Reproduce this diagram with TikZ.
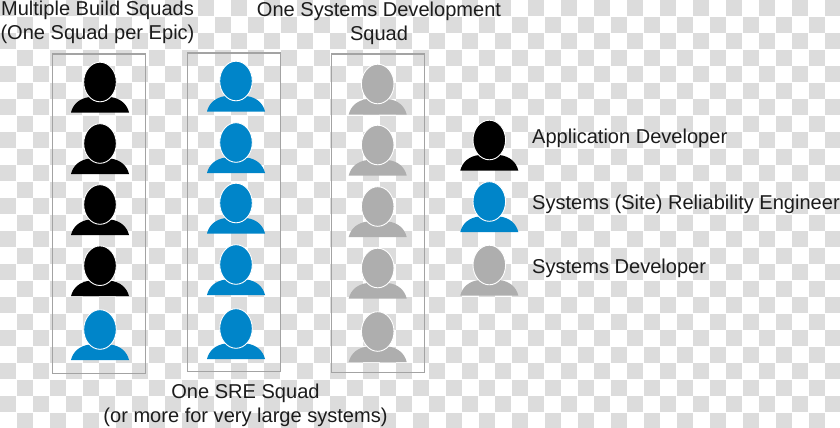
\documentclass[tikz,border=0pt]{standalone}
\usepackage{fontspec}
\setmainfont{Liberation Sans}
\definecolor{chk}{HTML}{DCDCDC}
\definecolor{sreblue}{HTML}{0085C9}
\definecolor{sysgray}{HTML}{AEAEAE}
\definecolor{framegray}{HTML}{A3A3A3}
\definecolor{ink}{HTML}{1C1C1C}
\tikzset{
  x=1pt,y=-1pt,
  framebox/.style={draw=framegray,line width=1.3pt,fill=none},
  label text/.style={font=\fontsize{20.05}{23.5}\selectfont,text=ink,align=center,inner sep=0pt},
  legend text/.style={label text,anchor=west},
  pics/person/.style={code={
    \fill[#1] (-29,30.5) .. controls (-27,22) and (-20,16) .. (-10,15) -- (10,15)
       .. controls (20,16) and (27,22) .. (29,30.5) -- cycle;
    \draw[fill=#1,draw=white,line width=0.9pt] (0,0) ellipse [x radius=16.3,y radius=19.8];
  }}
}
\begin{document}
\begin{tikzpicture}
\useasboundingbox (0,0) rectangle (840,428);
\fill[white] (0,0) rectangle (840,428);
\begin{scope}
\clip (0,0) rectangle (840,428);
\foreach \j in {0,...,25}{
  \foreach \i in {0,...,50}{
    \pgfmathparse{int(mod(\i+\j,2))}
    \ifnum\pgfmathresult=0
      \fill[chk] ({\i*16.5+0.4},{\j*16.5+0.4}) rectangle ++(15.7,15.7);
    \fi
  }
}
\end{scope}
\node[framebox,minimum width=93.4pt,minimum height=319.3pt,inner sep=0pt] (f1) at (99,213.7) {};
\node[framebox,minimum width=93pt,minimum height=318.7pt,inner sep=0pt] (f2) at (234.2,212.4) {};
\node[framebox,minimum width=92.6pt,minimum height=318.7pt,inner sep=0pt] (f3) at (378,213.4) {};
\foreach \n/\y/\c in {1/82/black,2/143.5/black,3/204.5/black,4/265.7/black,5/329.5/sreblue}
  \pic (a\n) at (100,\y) {person=\c};
\foreach \n/\y in {1/81,2/142.5,3/203,4/264.5,5/328.5}
  \pic (b\n) at (236,\y) {person=sreblue};
\foreach \n/\y in {1/84,2/145,3/206.5,4/268,5/331.5}
  \pic (c\n) at (377.7,\y) {person=sysgray};
\pic (l1) at (489.3,140) {person=black};
\pic (l2) at (489.3,201.5) {person=sreblue};
\pic (l3) at (489.3,265) {person=sysgray};
\node[label text] (t1) at (97.5,22.5) {Multiple Build Squads\\(One Squad per Epic)};
\node[label text] (t2) at (379,23.5) {One Systems Development\\Squad};
\node[label text] (t3) at (245.5,405.5) {One SRE Squad\\(or more for very large systems)};
\node[legend text] (k1) at (532,138.5) {Application Developer};
\node[legend text] (k2) at (532,204.5) {Systems (Site) Reliability Engineer};
\node[legend text] (k3) at (532,268.5) {Systems Developer};
\end{tikzpicture}
\end{document}
